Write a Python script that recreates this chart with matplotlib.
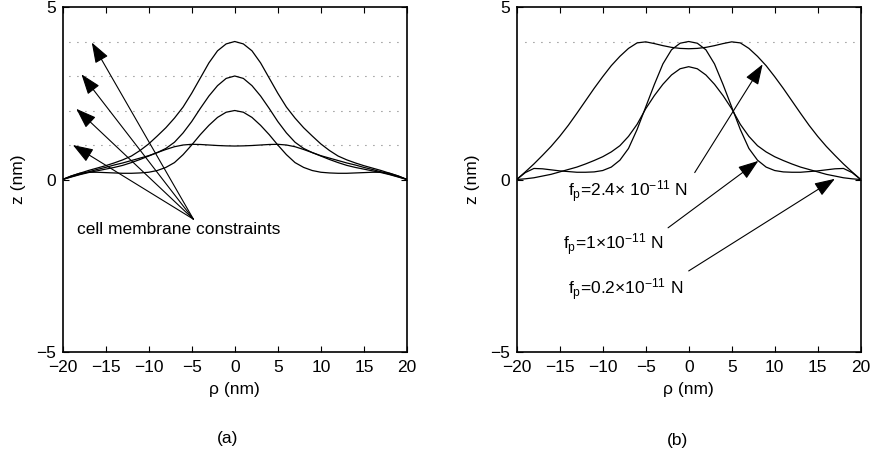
import numpy as np
import matplotlib
matplotlib.use("Agg")
from matplotlib import pyplot as plt

plt.rcParams['font.family'] = ['Liberation Sans', 'DejaVu Sans']
plt.rcParams['mathtext.fontset'] = 'custom'
plt.rcParams['mathtext.rm'] = 'Liberation Sans'
plt.rcParams['mathtext.default'] = 'regular'

# radial grid (nm)
rho = [-20, -19, -18, -17, -16, -15, -14, -13, -12, -11, -10, -9, -8, -7, -6, -5, -4, -3, -2, -1,
       0, 1, 2, 3, 4, 5, 6, 7, 8, 9, 10, 11, 12, 13, 14, 15, 16, 17, 18, 19, 20]

## (a) membrane profiles for the four constraint heights
z_c4 = [0.00, 0.10, 0.18, 0.26, 0.33, 0.40, 0.48, 0.57, 0.68, 0.84, 1.03, 1.26, 1.50, 1.78, 2.10, 2.50, 2.94, 3.38, 3.73, 3.93,
        4.00, 3.93, 3.73, 3.38, 2.94, 2.50, 2.10, 1.78, 1.50, 1.26, 1.03, 0.84, 0.68, 0.57, 0.48, 0.40, 0.33, 0.26, 0.18, 0.10, 0.00]
z_c3 = [0.00, 0.08, 0.15, 0.22, 0.29, 0.35, 0.42, 0.48, 0.55, 0.62, 0.69, 0.78, 0.90, 1.08, 1.35, 1.68, 2.06, 2.42, 2.72, 2.93,
        3.00, 2.93, 2.72, 2.42, 2.06, 1.68, 1.35, 1.08, 0.90, 0.78, 0.69, 0.62, 0.55, 0.48, 0.42, 0.35, 0.29, 0.22, 0.15, 0.08, 0.00]
z_c2 = [0.00, 0.10, 0.18, 0.21, 0.21, 0.20, 0.19, 0.18, 0.18, 0.19, 0.21, 0.26, 0.35, 0.49, 0.72, 1.00, 1.30, 1.57, 1.80, 1.95,
        2.00, 1.95, 1.80, 1.57, 1.30, 1.00, 0.72, 0.49, 0.35, 0.26, 0.21, 0.19, 0.18, 0.18, 0.19, 0.20, 0.21, 0.21, 0.18, 0.10, 0.00]
z_c1 = [0.00, 0.07, 0.14, 0.20, 0.25, 0.30, 0.35, 0.41, 0.49, 0.58, 0.68, 0.78, 0.87, 0.95, 1.00, 1.02, 1.015, 1.00, 0.985, 0.975,
        0.97, 0.975, 0.985, 1.00, 1.015, 1.02, 1.00, 0.95, 0.87, 0.78, 0.68, 0.58, 0.49, 0.41, 0.35, 0.30, 0.25, 0.20, 0.14, 0.07, 0.00]
constraint_a = [1, 2, 3, 4]
arrow_tips_a = [(-18.8, 1.0), (-18.4, 2.05), (-17.8, 3.05), (-16.6, 3.97)]

## (b) membrane profiles for three pulling forces
z_f24 = [0.00, 0.22, 0.45, 0.70, 0.96, 1.25, 1.57, 1.92, 2.28, 2.64, 2.98, 3.30, 3.57, 3.80, 3.96, 3.99, 3.94, 3.88, 3.83, 3.80,
         3.79, 3.80, 3.83, 3.88, 3.94, 3.99, 3.96, 3.80, 3.57, 3.30, 2.98, 2.64, 2.28, 1.92, 1.57, 1.25, 0.96, 0.70, 0.45, 0.22, 0.00]
z_f10 = [0.00, 0.20, 0.32, 0.31, 0.28, 0.25, 0.23, 0.21, 0.21, 0.22, 0.26, 0.36, 0.56, 0.90, 1.45, 2.10, 2.75, 3.35, 3.76, 3.95,
         4.00, 3.95, 3.76, 3.35, 2.75, 2.10, 1.45, 0.90, 0.56, 0.36, 0.26, 0.22, 0.21, 0.21, 0.23, 0.25, 0.28, 0.31, 0.32, 0.20, 0.00]
z_f02 = [0.00, 0.02, 0.05, 0.10, 0.15, 0.22, 0.29, 0.36, 0.45, 0.55, 0.66, 0.80, 0.98, 1.25, 1.60, 2.05, 2.43, 2.76, 3.03, 3.21,
         3.27, 3.21, 3.03, 2.76, 2.43, 2.05, 1.60, 1.25, 0.98, 0.80, 0.66, 0.55, 0.45, 0.36, 0.29, 0.22, 0.15, 0.10, 0.05, 0.02, 0.00]
constraint_b = [4]
labels_b = [r'$f_p$=2.4$\times$ 10$^{-11}$ N', r'$f_p$=1$\times$10$^{-11}$ N', r'$f_p$=0.2$\times$10$^{-11}$ N']
label_pos_b = [(-14.0, -0.35), (-14.6, -1.9), (-14.0, -3.2)]
arrow_tails_b = [(0.7, 0.2), (-2.4, -1.4), (0.0, -2.65)]
arrow_tips_b = [(8.6, 3.34), (8.1, 0.54), (17.0, 0.02)]

FS = 12.5
W, H = 874, 462
fig = plt.figure(figsize=(W / 100, H / 100), dpi=100)
ax1 = fig.add_axes([62.5 / W, 1 - 352 / H, 344.5 / W, 345 / H])
ax2 = fig.add_axes([516.7 / W, 1 - 352 / H, 344 / W, 345 / H])

arr = dict(arrowstyle='-|>,head_length=0.9,head_width=0.32', color='k', lw=0.8,
           shrinkA=0, shrinkB=0, mutation_scale=14)

for c in constraint_a:
    ax1.plot([-19.2, 19.6], [c, c], color='0.35', lw=0.8, linestyle=(0, (0.8, 6.4)))
for z in [z_c4, z_c3, z_c2, z_c1]:
    ax1.plot(rho, z, color='k', lw=0.9)
for tip in arrow_tips_a:
    ax1.annotate('', xy=tip, xytext=(-4.8, -1.15), arrowprops=arr)
ax1.text(-18.3, -1.45, 'cell membrane constraints', fontsize=FS, va='center', ha='left')

for c in constraint_b:
    ax2.plot([-19.0, 19.6], [c, c], color='0.35', lw=0.8, linestyle=(0, (0.8, 6.4)))
for z in [z_f24, z_f10, z_f02]:
    ax2.plot(rho, z, color='k', lw=0.9)
for lab, pos, tail, tip in zip(labels_b, label_pos_b, arrow_tails_b, arrow_tips_b):
    ax2.text(pos[0], pos[1], lab, fontsize=FS, va='center', ha='left')
    ax2.annotate('', xy=tip, xytext=tail, arrowprops=arr)

for ax in [ax1, ax2]:
    ax.set_xlim(-20, 20)
    ax.set_ylim(-5, 5)
    ax.set_xticks([-20, -15, -10, -5, 0, 5, 10, 15, 20])
    ax.set_yticks([-5, 0, 5])
    ax.tick_params(direction='in', top=True, right=True, length=4, width=0.8, labelsize=FS)
    ax.tick_params(axis='x', pad=6)
    ax.tick_params(axis='y', pad=5)
    for s in ax.spines.values():
        s.set_linewidth(1.2)
    ax.set_xlabel(u'\u03c1 (nm)', fontsize=FS, labelpad=5)
    ax.set_ylabel('z (nm)', fontsize=FS, labelpad=7)

fig.text(228 / W, 1 - 439 / H, '(a)', fontsize=FS, ha='center', va='center')
fig.text(677 / W, 1 - 441 / H, '(b)', fontsize=FS, ha='center', va='center')

fig.savefig('out.png', dpi=100)
